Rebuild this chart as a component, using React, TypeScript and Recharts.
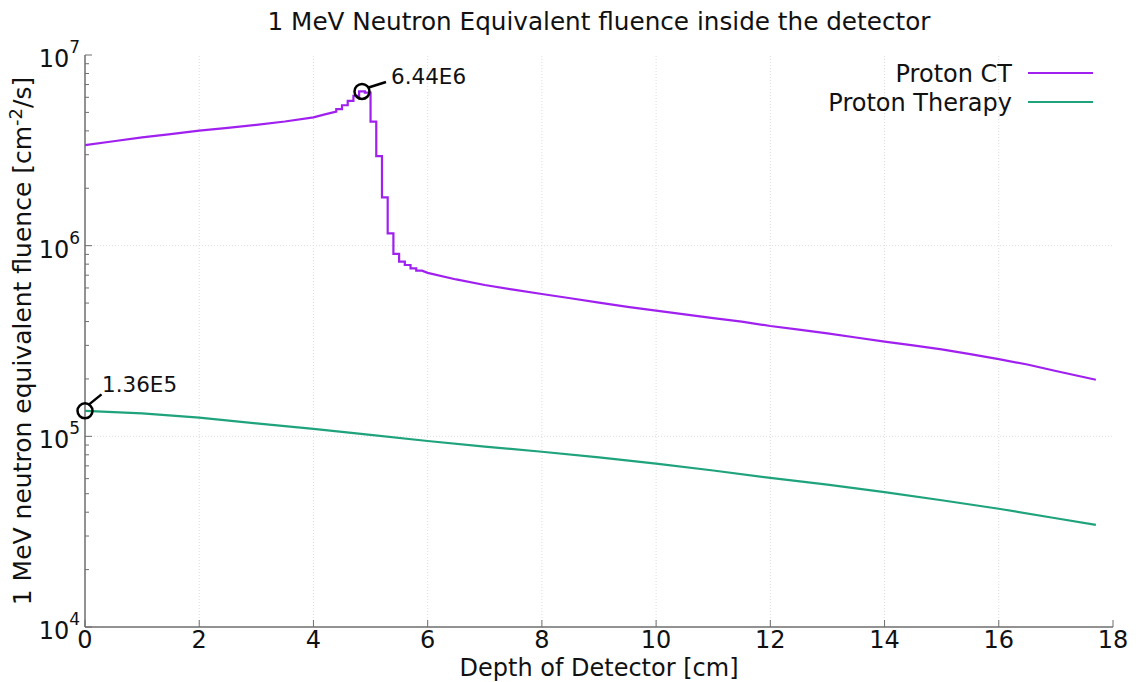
import React from 'react';
import { LineChart, Line, XAxis, YAxis, ReferenceLine, ReferenceDot } from 'recharts';

// ---- data ----
const ctDepth = [
  0, 0.5, 1, 1.5, 2, 2.5, 3, 3.5, 4, 4.2, 4.4,
  4.4, 4.5, 4.5, 4.6, 4.6, 4.7, 4.7, 4.8, 4.8, 4.9, 4.9, 5.0,
  5.0, 5.1, 5.1, 5.2, 5.2, 5.3, 5.3, 5.4, 5.4, 5.5, 5.5, 5.6,
  5.6, 5.7, 5.7, 5.8, 5.8, 5.9,
  6.0, 6.5, 7.0, 7.5, 8.0, 8.5, 9.0, 9.5, 10.0, 10.5, 11.0, 11.5,
  12.0, 12.5, 13.0, 13.5, 14.0, 14.5, 15.0, 15.5, 16.0, 16.5, 17.0, 17.5, 17.7,
];
const ctFluence = [
  3.37e6, 3.53e6, 3.7e6, 3.85e6, 4.01e6, 4.15e6, 4.3e6, 4.48e6, 4.71e6, 4.88e6, 5.05e6,
  5.2e6, 5.2e6, 5.45e6, 5.45e6, 5.75e6, 5.75e6, 6.1e6, 6.1e6, 6.44e6, 6.44e6, 6.35e6, 6.35e6,
  4.47e6, 4.47e6, 2.95e6, 2.95e6, 1.79e6, 1.79e6, 1.16e6, 1.16e6, 9.05e5, 9.05e5, 8.24e5, 8.24e5,
  7.92e5, 7.92e5, 7.61e5, 7.61e5, 7.39e5, 7.39e5,
  7.2e5, 6.65e5, 6.22e5, 5.88e5, 5.58e5, 5.3e5, 5.03e5, 4.78e5, 4.56e5, 4.36e5, 4.17e5, 4.0e5,
  3.79e5, 3.63e5, 3.47e5, 3.3e5, 3.14e5, 3.0e5, 2.86e5, 2.7e5, 2.54e5, 2.38e5, 2.2e5, 2.04e5, 1.98e5,
];
const therapyDepth = [0, 1, 2, 3, 4, 5, 6, 7, 8, 9, 10, 11, 12, 13, 14, 15, 16, 17, 17.7];
const therapyFluence = [
  1.36e5, 1.32e5, 1.253e5, 1.17e5, 1.094e5, 1.017e5, 9.45e4, 8.84e4, 8.3e4, 7.75e4,
  7.2e4, 6.62e4, 6.05e4, 5.58e4, 5.1e4, 4.62e4, 4.17e4, 3.72e4, 3.43e4,
];
const xTicks = [0, 2, 4, 6, 8, 10, 12, 14, 16, 18];
const xGrid = [2, 4, 6, 8, 10, 12, 14, 16];
const yMajor = [1e4, 1e5, 1e6, 1e7];
const yGrid = [1e5, 1e6];
const minorMult = [2, 3, 4, 5, 6, 7, 8, 9];
const peakAnnot = { depth: 4.85, fluence: 6.44e6, label: '6.44E6' };
const startAnnot = { depth: 0, fluence: 1.36e5, label: '1.36E5' };

const CT_COLOR = '#a020f0';
const PT_COLOR = '#1fa37c';
const SPINE = '#6e6e6e';
const FONT = '"DejaVu Sans", sans-serif';

const ctData = ctDepth.map((d, i) => ({ depth: d, fluence: ctFluence[i] }));
const ptData = therapyDepth.map((d, i) => ({ depth: d, fluence: therapyFluence[i] }));
const yTicks: number[] = [];
yMajor.forEach((m, i) => {
  yTicks.push(m);
  if (i < yMajor.length - 1) minorMult.forEach((k) => yTicks.push(m * k));
});

const isMajor = (v: number) => yMajor.some((m) => Math.abs(m - v) / m < 1e-6);

const LeftTick = (props: any) => {
  const { x, y, payload } = props;
  const v = payload.value;
  const major = isMajor(v);
  const exp = Math.round(Math.log10(v));
  return (
    <g>
      <line x1={x} y1={y} x2={x + (major ? 7 : 4)} y2={y} stroke={SPINE} strokeWidth={1} />
      {major && (
        <text x={x - 5} y={y + 12} textAnchor="end" fontFamily={FONT} fontSize={24} fill="#111">
          10
          <tspan dy={-14} fontSize={17}>{exp}</tspan>
        </text>
      )}
    </g>
  );
};

const RightTick = (props: any) => {
  const { x, y, payload } = props;
  const major = isMajor(payload.value);
  return <line x1={x} y1={y} x2={x - (major ? 7 : 4)} y2={y} stroke={SPINE} strokeWidth={1} />;
};

const BottomTick = (props: any) => {
  const { x, y, payload } = props;
  return (
    <g>
      <line x1={x} y1={y} x2={x} y2={y - 7} stroke={SPINE} strokeWidth={1} />
      <text x={x} y={y + 20.5} textAnchor="middle" fontFamily={FONT} fontSize={24} fill="#111">
        {payload.value}
      </text>
    </g>
  );
};

const TopTick = (props: any) => {
  const { x, y } = props;
  return <line x1={x} y1={y} x2={x} y2={y + 7} stroke={SPINE} strokeWidth={1} />;
};

const annotShape = (label: string, kind: 'peak' | 'start') => (p: any) => {
  const { cx, cy } = p;
  const line =
    kind === 'peak'
      ? { x1: cx + 6.6, y1: cy - 4, x2: cx + 24, y2: cy - 9.5 }
      : { x1: cx + 3.5, y1: cy - 6, x2: cx + 16.5, y2: cy - 16.5 };
  const text = kind === 'peak' ? { x: cx + 29, y: cy - 7 } : { x: cx + 17, y: cy - 19 };
  return (
    <g>
      <circle cx={cx} cy={cy} r={7.5} fill="none" stroke="#000" strokeWidth={2.5} />
      <line {...line} stroke="#000" strokeWidth={2.5} />
      <text x={text.x} y={text.y} fontFamily={FONT} fontSize={21.5} fill="#111">
        {label}
      </text>
    </g>
  );
};

const legendItems = [
  { name: 'Proton CT', color: CT_COLOR },
  { name: 'Proton Therapy', color: PT_COLOR },
];

export default function App() {
  return (
    <div style={{ position: 'absolute', left: 0, top: 0, width: 1138, height: 682, background: '#fff' }}>
      <LineChart
        width={1138}
        height={682}
        margin={{ top: 55, right: 25, left: 0, bottom: 0 }}
      >
        <XAxis
          xAxisId="b"
          type="number"
          dataKey="depth"
          domain={[0, 18]}
          ticks={xTicks}
          allowDataOverflow
          height={55}
          tickSize={0}
          tickMargin={0}
          tickLine={false}
          stroke={SPINE}
          strokeWidth={1.5}
          tick={<BottomTick />}
          interval={0}
        />
        <XAxis
          xAxisId="t"
          orientation="top"
          type="number"
          dataKey="depth"
          domain={[0, 18]}
          ticks={xTicks}
          allowDataOverflow
          height={0}
          tickSize={0}
          tickMargin={0}
          tickLine={false}
          stroke={SPINE}
          strokeWidth={1.5}
          tick={<TopTick />}
          interval={0}
        />
        <YAxis
          yAxisId="l"
          type="number"
          scale="log"
          domain={[1e4, 1e7]}
          ticks={yTicks}
          allowDataOverflow
          width={85}
          tickSize={0}
          tickMargin={0}
          tickLine={false}
          stroke={SPINE}
          strokeWidth={1.5}
          tick={<LeftTick />}
          interval={0}
        />
        <YAxis
          yAxisId="r"
          orientation="right"
          type="number"
          scale="log"
          domain={[1e4, 1e7]}
          ticks={yTicks}
          allowDataOverflow
          width={0}
          tickSize={0}
          tickMargin={0}
          tickLine={false}
          stroke={SPINE}
          strokeWidth={1.5}
          tick={<RightTick />}
          interval={0}
        />
        {xGrid.map((v) => (
          <ReferenceLine key={'gx' + v} xAxisId="b" yAxisId="l" x={v} stroke="#dcdcdc" strokeDasharray="1 2" />
        ))}
        {yGrid.map((v) => (
          <ReferenceLine key={'gy' + v} xAxisId="b" yAxisId="l" y={v} stroke="#dcdcdc" strokeDasharray="1 2" />
        ))}
        <Line
          xAxisId="b"
          yAxisId="l"
          data={ctData}
          dataKey="fluence"
          name="Proton CT"
          type="linear"
          stroke={CT_COLOR}
          strokeWidth={2.2}
          dot={false}
          isAnimationActive={false}
        />
        <Line
          xAxisId="b"
          yAxisId="l"
          data={ptData}
          dataKey="fluence"
          name="Proton Therapy"
          type="linear"
          stroke={PT_COLOR}
          strokeWidth={2.2}
          dot={false}
          isAnimationActive={false}
        />
        <ReferenceDot
          xAxisId="b"
          yAxisId="l"
          x={peakAnnot.depth}
          y={peakAnnot.fluence}
          ifOverflow="visible"
          shape={annotShape(peakAnnot.label, 'peak')}
        />
        <ReferenceDot
          xAxisId="b"
          yAxisId="l"
          x={startAnnot.depth}
          y={startAnnot.fluence}
          ifOverflow="visible"
          shape={annotShape(startAnnot.label, 'start')}
        />
      </LineChart>
      <svg
        width={1138}
        height={682}
        style={{ position: 'absolute', left: 0, top: 0, pointerEvents: 'none' }}
      >
        <text x={599} y={30} textAnchor="middle" fontFamily={FONT} fontSize={24.7} fill="#111">
          1 MeV Neutron Equivalent fluence inside the detector
        </text>
        <text x={599} y={675.5} textAnchor="middle" fontFamily={FONT} fontSize={24} fill="#111">
          Depth of Detector [cm]
        </text>
        <text
          x={31}
          y={341}
          textAnchor="middle"
          transform="rotate(-90, 31, 341)"
          fontFamily={FONT}
          fontSize={25}
          fill="#111"
        >
          1 MeV neutron equivalent fluence [cm
          <tspan dy={-9} fontSize={18}>-2</tspan>
          <tspan dy={9} fontSize={25}>/s]</tspan>
        </text>
        {legendItems.map((it, i) => (
          <g key={it.name}>
            <text x={1012} y={82 + i * 29} textAnchor="end" fontFamily={FONT} fontSize={24} fill="#111">
              {it.name}
            </text>
            <line x1={1028} y1={73 + i * 29} x2={1093} y2={73 + i * 29} stroke={it.color} strokeWidth={2.2} />
          </g>
        ))}
      </svg>
    </div>
  );
}
